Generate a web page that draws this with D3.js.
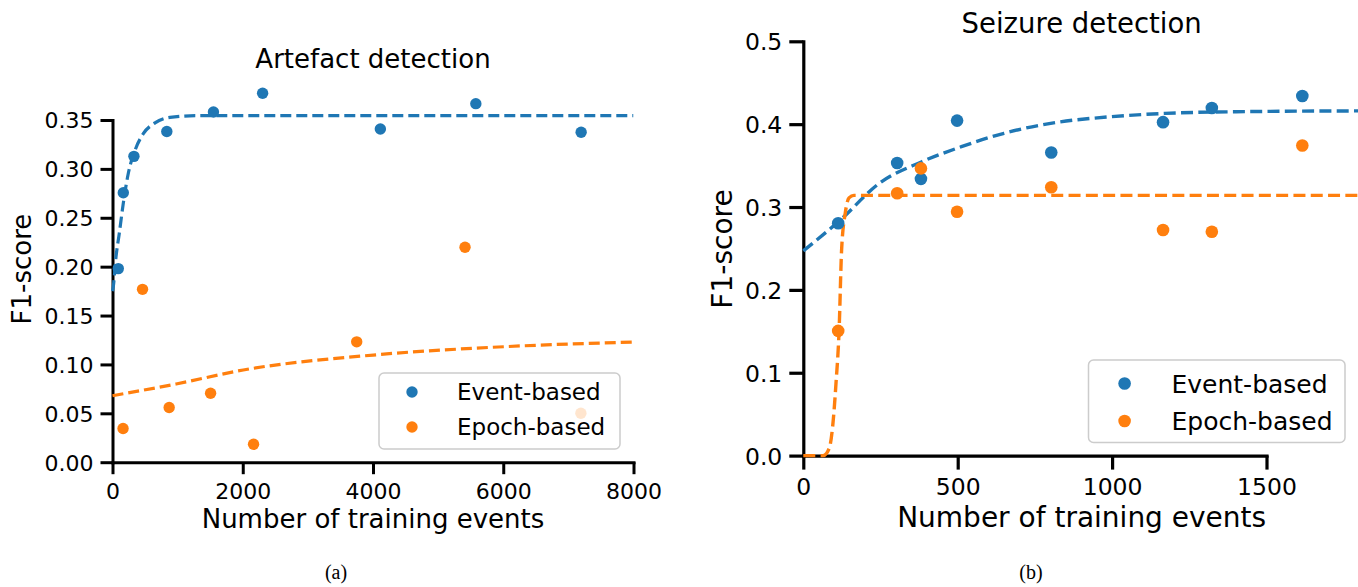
<!DOCTYPE html>
<html>
<head>
<meta charset="utf-8">
<script src="https://cdn.jsdelivr.net/npm/d3@7"></script>
<style>
  html, body { margin: 0; padding: 0; background: #fff; }
  svg { display: block; font-family: "DejaVu Sans", sans-serif; }
</style>
</head>
<body>
<svg id="chart" width="1358" height="587"></svg>
<script>
// ---------- DATA ----------
const seriesNames = ["Event-based", "Epoch-based"];

// (a) Artefact detection
const artefactEventX = [89, 166, 329, 834, 1550, 2305, 4113, 5579, 7196];
const artefactEventY = [0.198, 0.2756, 0.3128, 0.3382, 0.3582, 0.3773, 0.3408, 0.3667, 0.3374];
const artefactEpochX = [162, 461, 870, 1506, 2166, 3750, 5413, 7192];
const artefactEpochY = [0.0344, 0.1768, 0.056, 0.0705, 0.0184, 0.1231, 0.2198, 0.0501];
// fitted curves
const artefactEventFitX = [0, 12, 54, 104, 166, 243, 346, 473, 653, 883, 1293, 2000, 8000];
const artefactEventFitY = [0.175, 0.1795, 0.21, 0.234, 0.265, 0.2955, 0.319, 0.336, 0.347, 0.3527, 0.3544, 0.3545, 0.3545];
const artefactEpochFitX = [0, 977, 2008, 4003, 6006, 8000];
const artefactEpochFitY = [0.068, 0.080, 0.0943, 0.1096, 0.1181, 0.1229];
const artefactXTicks = [0, 2000, 4000, 6000, 8000];
const artefactYTicks = [0, 0.05, 0.10, 0.15, 0.20, 0.25, 0.30, 0.35];

// (b) Seizure detection
const seizureX = [113, 304, 381, 498, 803, 1165, 1323, 1616];
const seizureEventY = [0.2805, 0.3532, 0.334, 0.4043, 0.3658, 0.4024, 0.4195, 0.434];
const seizureEpochY = [0.1505, 0.3167, 0.3466, 0.2943, 0.3238, 0.2722, 0.2702, 0.3743];
const seizureEventFitX = [0, 119, 246, 384, 512, 650, 801, 996, 1171, 1401, 1800];
const seizureEventFitY = [0.247, 0.284, 0.3286, 0.3547, 0.3728, 0.389, 0.401, 0.409, 0.413, 0.415, 0.416];
const seizureEpochFitX = [0, 64, 84, 95, 106, 116, 124, 136, 148, 164, 200, 1800];
const seizureEpochFitY = [0, 0, 0.0088, 0.035, 0.088, 0.152, 0.248, 0.293, 0.311, 0.314, 0.314, 0.314];
const seizureXTicks = [0, 500, 1000, 1500];
const seizureYTicks = [0, 0.1, 0.2, 0.3, 0.4, 0.5];

const titles = ["Artefact detection", "Seizure detection"];
const xLabel = "Number of training events";
const yLabel = "F1-score";
const captions = ["(a)", "(b)"];

// ---------- STYLE ----------
const colors = ["#1f77b4", "#ff7f0e"];
const svg = d3.select("#chart");
svg.append("rect").attr("width", 1358).attr("height", 587).attr("fill", "#fff");

function zip(xs, ys) { return xs.map((x, i) => [x, ys[i]]); }

function drawPanel(p) {
  const g = svg.append("g");
  const x = d3.scaleLinear().domain(p.xDomain).range(p.xRange);
  const y = d3.scaleLinear().domain(p.yDomain).range(p.yRange);

  const xAxis = d3.axisBottom(x).tickValues(p.xTicks).tickFormat(d3.format("d"))
    .tickSizeInner(p.tickLen).tickSizeOuter(0).tickPadding(p.xTickPad);
  const yAxis = d3.axisLeft(y).tickValues(p.yTicks).tickFormat(d3.format(p.yFmt))
    .tickSizeInner(p.tickLen).tickSizeOuter(0).tickPadding(p.yTickPad);

  const gx = g.append("g").attr("transform", `translate(0,${y(0)})`).call(xAxis);
  const gy = g.append("g").attr("transform", `translate(${x(0)},0)`).call(yAxis);
  [gx, gy].forEach(a => {
    a.select(".domain").attr("stroke", "#000").attr("stroke-width", p.spineW).attr("stroke-linecap", "square");
    a.selectAll(".tick line").attr("stroke", "#000").attr("stroke-width", p.spineW);
    a.selectAll(".tick text").attr("fill", "#000").attr("font-size", p.tickFont)
      .attr("font-family", "DejaVu Sans");
  });
  gy.selectAll(".tick text").attr("dy", "0.36em");
  gx.selectAll(".tick text").attr("dy", "0.71em");

  const clipId = "clip" + p.id;
  svg.append("clipPath").attr("id", clipId).append("rect")
    .attr("x", p.xRange[0] - 8).attr("y", p.plotTop - 10)
    .attr("width", p.axRight - p.xRange[0] + 8).attr("height", y(0) - p.plotTop + 14);
  const plot = g.append("g").attr("clip-path", `url(#${clipId})`);

  const line = d3.line().x(d => x(d[0])).y(d => y(d[1])).curve(d3.curveMonotoneX);
  p.fits.forEach((f, i) => {
    plot.append("path").datum(f).attr("d", line).attr("fill", "none")
      .attr("stroke", colors[i]).attr("stroke-width", p.lineW)
      .attr("stroke-dasharray", p.dash);
  });
  p.points.forEach((pts, i) => {
    plot.selectAll(null).data(pts).enter().append("circle")
      .attr("cx", d => x(d[0])).attr("cy", d => y(d[1])).attr("r", p.r)
      .attr("fill", colors[i]);
  });

  g.append("text").attr("x", (p.xRange[0] + p.axRight) / 2).attr("y", p.titleY)
    .attr("text-anchor", "middle").attr("font-size", p.titleFont).text(p.title);
  g.append("text").attr("x", (p.xRange[0] + p.axRight) / 2).attr("y", p.xLabelY)
    .attr("text-anchor", "middle").attr("font-size", p.labelFont).text(xLabel);
  g.append("text").attr("transform", `translate(${p.yLabelX},${p.yLabelCY}) rotate(-90)`)
    .attr("text-anchor", "middle").attr("dy", "0.36em").attr("font-size", p.labelFont).text(yLabel);

  const L = p.legend;
  const lg = g.append("g");
  lg.append("rect").attr("x", L.x).attr("y", L.y).attr("width", L.w).attr("height", L.h)
    .attr("rx", 5).attr("ry", 5).attr("fill", "#fff").attr("fill-opacity", 0.8)
    .attr("stroke", "#cccccc").attr("stroke-width", 1.5);
  seriesNames.forEach((name, i) => {
    lg.append("circle").attr("cx", L.mx).attr("cy", L.rows[i]).attr("r", p.r).attr("fill", colors[i]);
    lg.append("text").attr("x", L.tx).attr("y", L.rows[i]).attr("dy", "0.36em")
      .attr("font-size", L.font).text(name);
  });

  svg.append("text").attr("x", p.captionX).attr("y", 579).attr("text-anchor", "middle")
    .attr("font-family", "'Liberation Serif', 'Times New Roman', serif").attr("font-size", 20)
    .text(p.caption);
}

drawPanel({
  id: "a", title: titles[0], caption: captions[0], captionX: 336,
  xDomain: [0, 8000], xRange: [112.5, 633.5], axRight: 633.5,
  yDomain: [0, 0.35], yRange: [462.2, 120], plotTop: 77, yLabelCY: 269,
  xTicks: artefactXTicks, yTicks: artefactYTicks, yFmt: ".2f",
  tickLen: 12, xTickPad: 9, yTickPad: 7, spineW: 3,
  tickFont: 22, titleFont: 26, labelFont: 26,
  titleY: 68, xLabelY: 528, yLabelX: 22,
  lineW: 3.2, dash: "11,5", r: 5.7,
  fits: [zip(artefactEventFitX, artefactEventFitY), zip(artefactEpochFitX, artefactEpochFitY)],
  points: [zip(artefactEventX, artefactEventY), zip(artefactEpochX, artefactEpochY)],
  legend: { x: 379, y: 373, w: 241, h: 76, mx: 412, tx: 457, rows: [392, 427], font: 23 }
});

drawPanel({
  id: "b", title: titles[1], caption: captions[1], captionX: 1031,
  xDomain: [0, 1500], xRange: [803.3, 1266.5], axRight: 1360,
  yDomain: [0, 0.5], yRange: [455.6, 41.3], plotTop: 41.3, yLabelCY: 249,
  xTicks: seizureXTicks, yTicks: seizureYTicks, yFmt: ".1f",
  tickLen: 14, xTickPad: 9, yTickPad: 7, spineW: 3.2,
  tickFont: 23.5, titleFont: 27.5, labelFont: 28,
  titleY: 33, xLabelY: 527, yLabelX: 721.5,
  lineW: 3.4, dash: "12,5.3", r: 6.3,
  fits: [zip(seizureEventFitX, seizureEventFitY), zip(seizureEpochFitX, seizureEpochFitY)],
  points: [zip(seizureX, seizureEventY), zip(seizureX, seizureEpochY)],
  legend: { x: 1088.5, y: 360, w: 256.5, h: 82.5, mx: 1124.6, tx: 1171.5, rows: [383.5, 421], font: 25 }
});
</script>
</body>
</html>
